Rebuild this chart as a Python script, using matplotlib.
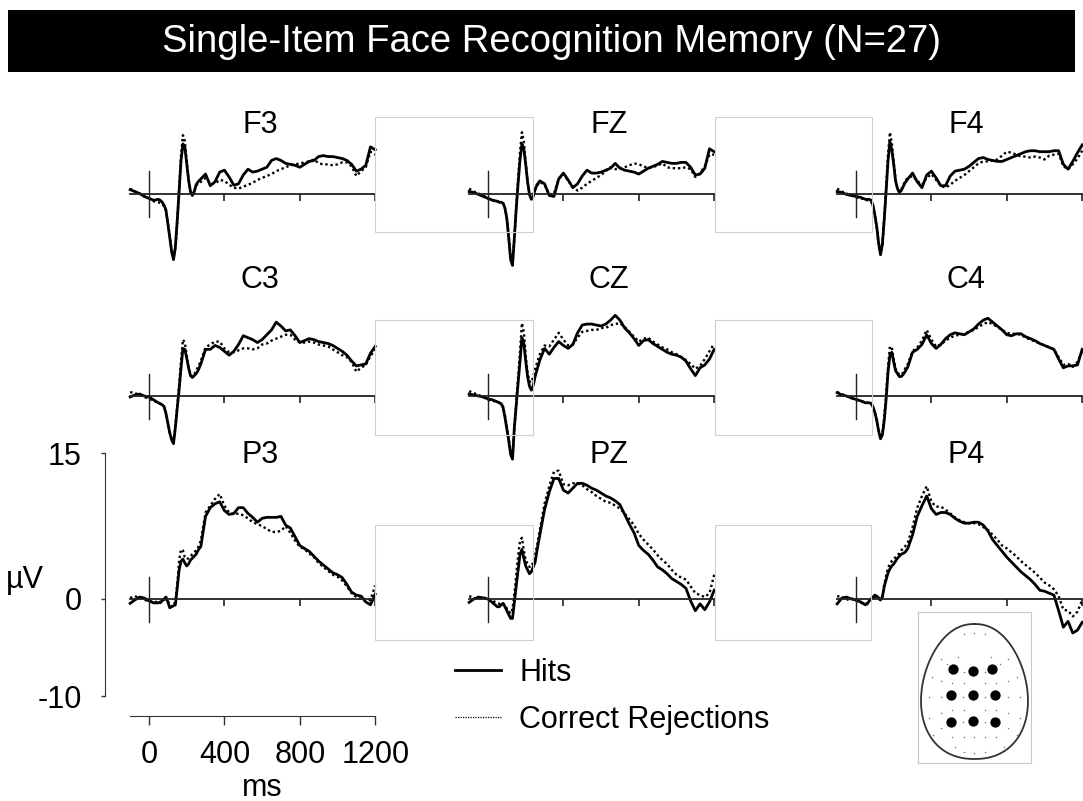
import numpy as np
import matplotlib
matplotlib.use("Agg")
import matplotlib.pyplot as plt
from matplotlib.lines import Line2D
from matplotlib.patches import Rectangle

plt.rcParams['font.family'] = ['Liberation Sans', 'DejaVu Sans']

W, H = 1083, 801

# ---------------- data ----------------
# sampling grid (ms): -100..50 step 25, 60..260 step 10, 275..1200 step 25
time_ms = np.concatenate([np.arange(-100, 51, 25), np.arange(60, 261, 10), np.arange(275, 1201, 25)])

electrodes = ["F3", "FZ", "F4", "C3", "CZ", "C4", "P3", "PZ", "P4"]

f3_hits = [0.4, 0.2, 0.0, -0.3, -0.5, -0.7, -0.6,
           -0.7, -0.9, -1.2, -1.7, -3.1, -4.5, -6.0, -6.8, -5.5, -2.7, 0.3, 3.4, 5.1, 4.8, 3.1, 1.4, 0.2, -0.2, 0.2, 0.9, 1.2,
           1.5, 2.0, 0.8, 1.2, 2.2, 2.4, 1.7, 0.85, 1.0, 1.9, 2.5, 2.2, 2.3, 2.5, 2.7, 3.4, 3.6, 3.4, 3.1, 3.0, 2.9, 2.7,
           3.0, 3.3, 3.4, 3.8, 3.9, 3.8, 3.8, 3.7, 3.6, 3.4, 3.0, 2.3, 2.5, 2.9, 4.8, 4.5]
f3_cr = [0.5, 0.2, 0.0, -0.3, -0.5, -0.8, -0.9,
         -1.0, -1.1, -1.3, -1.8, -3.0, -4.4, -5.8, -6.6, -5.6, -2.9, 0.6, 4.0, 6.0, 5.4, 3.3, 1.4, 0.2, -0.2, 0.2, 0.8, 1.0,
         1.2, 1.6, 1.1, 1.0, 1.4, 1.3, 0.9, 0.6, 0.5, 0.7, 0.9, 1.1, 1.4, 1.6, 1.8, 2.0, 2.3, 2.5, 2.7, 2.9, 3.0, 3.1,
         3.2, 3.3, 3.5, 3.1, 3.0, 3.0, 2.9, 3.0, 3.2, 3.2, 2.8, 1.8, 2.3, 2.7, 4.3, 4.0]

fz_hits = [0.2, 0.1, -0.1, -0.3, -0.5, -0.7, -0.8,
           -0.9, -0.9, -1.0, -1.5, -2.6, -4.6, -6.8, -7.4, -4.5, -1.5, 1.1, 3.5, 5.1, 4.6, 3.0, 1.2, -0.1, -0.6, -0.3, 0.4, 0.9,
           1.3, 1.0, -0.2, -0.3, 1.5, 2.1, 1.4, 0.6, 1.0, 1.8, 2.4, 2.1, 2.1, 2.2, 2.4, 2.6, 3.1, 2.6, 2.4, 2.3, 2.2, 2.0,
           2.3, 2.6, 2.8, 3.0, 3.3, 3.2, 3.1, 3.1, 3.2, 3.2, 2.7, 1.9, 2.0, 2.6, 4.6, 4.3]
fz_cr = [0.5, 0.2, 0.0, -0.2, -0.5, -0.7, -0.8,
         -0.9, -0.9, -1.0, -1.5, -2.5, -4.4, -6.5, -7.2, -4.6, -1.3, 1.6, 4.3, 6.3, 5.3, 3.2, 1.2, -0.1, -0.5, -0.2, 0.4, 0.8,
         1.2, 0.9, -0.1, 0.0, 1.5, 2.0, 1.3, 0.7, 0.3, 0.6, 1.0, 1.3, 1.6, 1.9, 2.3, 2.7, 2.5, 2.6, 2.7, 2.9, 3.1, 3.0,
         2.8, 2.6, 2.7, 2.9, 3.1, 2.7, 2.6, 2.6, 2.6, 2.7, 2.5, 1.7, 2.1, 2.8, 4.0, 4.0]

f4_hits = [0.2, 0.1, -0.1, -0.2, -0.3, -0.4, -0.6,
           -0.6, -0.6, -0.7, -1.2, -2.2, -3.4, -5.1, -6.3, -5.2, -2.6, 0.3, 3.4, 5.3, 4.5, 3.0, 1.3, 0.5, 0.1, 0.3, 0.7, 1.1,
           1.5, 2.1, 1.2, 0.6, 1.9, 2.3, 1.6, 0.8, 0.8, 1.8, 2.3, 2.4, 2.5, 2.8, 3.2, 3.6, 3.7, 3.5, 3.4, 3.3, 3.3, 3.5,
           3.7, 3.9, 4.1, 4.3, 4.4, 4.4, 4.3, 4.3, 4.3, 4.4, 4.4, 3.0, 2.5, 3.3, 4.2, 5.0]
f4_cr = [0.5, 0.2, 0.0, -0.2, -0.4, -0.5, -0.6,
         -0.7, -0.7, -0.8, -1.3, -2.3, -3.5, -5.2, -6.2, -5.3, -2.5, 0.7, 4.0, 6.3, 5.2, 3.2, 1.4, 0.5, 0.2, 0.4, 0.8, 1.3,
         1.6, 1.8, 1.3, 0.9, 1.6, 2.0, 1.4, 0.8, 0.6, 0.9, 1.3, 1.6, 1.9, 2.3, 2.7, 3.1, 3.3, 3.3, 3.4, 3.5, 3.9, 4.3,
         4.2, 4.0, 3.8, 3.8, 3.7, 3.8, 3.7, 3.5, 3.9, 4.0, 4.1, 2.8, 2.5, 3.0, 3.6, 4.4]

c3_hits = [-0.1, 0.1, 0.2, 0.0, -0.1, -0.4, -0.7,
           -0.8, -0.9, -1.1, -1.8, -2.8, -3.8, -4.5, -4.9, -3.2, -1.2, 0.7, 2.9, 4.9, 4.8, 3.9, 2.9, 2.1, 1.9, 2.1, 2.3, 2.6,
           3.3, 4.8, 4.8, 5.2, 5.0, 4.6, 4.2, 4.6, 5.3, 6.2, 6.0, 5.8, 5.5, 5.8, 6.3, 6.8, 7.6, 7.2, 6.7, 6.8, 6.2, 5.5,
           5.7, 5.9, 5.8, 5.6, 5.5, 5.4, 5.2, 4.9, 4.6, 4.2, 3.6, 3.1, 3.2, 3.3, 4.4, 5.1]
c3_cr = [0.4, 0.3, 0.1, -0.1, -0.3, -0.5, -0.7,
         -0.8, -0.9, -1.1, -1.7, -2.7, -3.7, -4.4, -4.7, -3.2, -1.0, 1.2, 3.6, 5.8, 5.5, 4.2, 3.0, 2.2, 2.0, 2.2, 2.6, 3.0,
         3.6, 5.0, 5.3, 5.6, 5.6, 4.9, 4.5, 4.5, 4.7, 4.9, 4.9, 4.8, 4.9, 5.3, 5.4, 5.7, 5.9, 6.1, 6.3, 6.3, 5.8, 5.5,
         5.5, 5.6, 5.5, 5.3, 5.2, 5.1, 4.8, 4.5, 4.2, 4.0, 3.5, 2.5, 2.9, 3.2, 4.1, 4.8]

cz_hits = [0.2, 0.1, 0.0, -0.1, -0.3, -0.4, -0.6,
           -0.7, -0.8, -1.2, -2.2, -3.4, -4.6, -6.0, -6.5, -3.2, -0.9, 1.4, 3.6, 6.0, 5.4, 3.6, 2.0, 1.0, 0.6, 1.1, 2.0, 2.7,
           3.7, 4.9, 4.3, 5.0, 5.6, 5.2, 4.9, 5.3, 6.5, 7.3, 7.4, 7.4, 7.3, 7.2, 7.4, 7.8, 8.3, 7.8, 7.0, 6.5, 5.9, 5.2,
           5.7, 5.8, 5.4, 5.1, 4.8, 4.5, 4.3, 4.2, 4.0, 3.6, 2.8, 2.1, 2.9, 3.2, 3.8, 4.8]
cz_cr = [0.5, 0.3, 0.1, -0.1, -0.4, -0.5, -0.6,
         -0.7, -0.8, -1.1, -2.0, -3.2, -4.4, -5.8, -6.2, -3.4, -0.6, 2.0, 4.6, 7.5, 6.6, 4.2, 2.4, 1.5, 1.4, 2.0, 2.8, 3.4,
         4.3, 5.2, 5.1, 5.8, 6.5, 5.8, 5.2, 5.3, 6.0, 6.6, 6.7, 6.8, 6.8, 7.0, 7.0, 7.3, 7.4, 7.5, 7.1, 6.6, 6.1, 5.6,
         5.9, 6.0, 5.6, 5.3, 5.0, 4.8, 4.5, 4.3, 4.0, 3.7, 3.3, 2.8, 3.1, 3.8, 4.6, 5.4]

c4_hits = [0.35, 0.1, 0.0, -0.2, -0.35, -0.5, -0.7,
           -0.7, -0.7, -0.75, -1.1, -1.7, -2.5, -3.6, -4.4, -4.0, -2.5, -0.3, 2.5, 4.2, 4.5, 3.5, 2.6, 2.3, 2.0, 2.0, 2.2, 2.5,
           3.0, 4.5, 4.8, 5.3, 6.3, 5.4, 4.9, 5.3, 5.9, 6.3, 6.5, 6.4, 6.3, 6.6, 6.9, 7.4, 7.8, 8.0, 7.6, 7.2, 6.8, 6.3,
           6.2, 6.4, 6.4, 6.1, 5.9, 5.7, 5.4, 5.2, 5.0, 4.8, 3.8, 2.9, 3.1, 3.1, 3.2, 4.8]
c4_cr = [0.4, 0.2, 0.0, -0.2, -0.4, -0.5, -0.7,
         -0.7, -0.7, -0.8, -1.1, -1.7, -2.5, -3.5, -4.3, -3.8, -2.1, 0.2, 3.0, 5.1, 5.0, 3.8, 2.8, 2.4, 2.2, 2.2, 2.4, 2.8,
         3.3, 4.6, 5.0, 5.7, 6.8, 5.8, 5.1, 5.3, 5.7, 6.0, 6.2, 6.3, 6.4, 6.6, 6.8, 7.1, 7.4, 7.6, 7.4, 7.1, 6.8, 6.5,
         6.4, 6.4, 6.3, 6.0, 5.8, 5.6, 5.4, 5.2, 5.0, 4.8, 4.0, 3.2, 3.3, 3.0, 3.5, 4.6]

p3_hits = [-0.45, -0.1, 0.2, 0.1, -0.2, -0.4, -0.4,
           -0.3, -0.2, 0.0, 0.2, -0.3, -0.9, -0.8, -0.7, -0.6, 1.2, 3.0, 3.9, 4.1, 3.7, 3.4, 3.6, 4.0, 4.2, 4.4, 4.6, 5.0,
           5.4, 8.5, 9.4, 9.8, 10.0, 9.1, 8.7, 8.8, 9.4, 9.4, 8.8, 8.4, 7.9, 8.3, 8.4, 8.4, 8.4, 8.5, 7.6, 7.3, 6.4, 5.5,
           5.2, 4.9, 4.4, 3.9, 3.5, 3.1, 2.7, 2.5, 2.2, 1.5, 0.7, 0.4, 0.3, -0.3, -0.6, 0.5]
p3_cr = [0.1, 0.3, 0.1, -0.1, -0.2, -0.3, -0.3,
         -0.4, -0.3, -0.1, 0.0, -0.2, -0.6, -0.8, -0.6, -0.3, 1.5, 4.0, 5.1, 5.0, 4.3, 4.1, 4.2, 4.4, 4.6, 4.8, 5.0, 5.3,
         6.0, 8.9, 9.6, 10.3, 10.8, 9.6, 8.9, 8.7, 8.8, 8.6, 8.3, 7.9, 7.7, 7.5, 7.2, 6.9, 6.9, 7.0, 7.5, 6.8, 6.0, 5.4,
         5.1, 4.7, 4.3, 3.7, 3.3, 2.9, 2.5, 2.3, 1.9, 1.3, 0.6, 0.2, 0.0, -0.2, -0.1, 1.4]

pz_hits = [-0.35, 0.0, 0.2, 0.1, 0.0, -0.4, -0.8,
           -0.8, -0.6, -0.45, -0.8, -1.2, -1.6, -2.0, -2.0, -0.3, 1.4, 3.0, 4.6, 5.1, 4.2, 3.4, 3.0, 2.6, 2.8, 3.3, 3.8, 5.0,
           6.6, 9.2, 11.0, 12.4, 12.4, 11.2, 10.9, 11.4, 11.9, 11.9, 11.7, 11.4, 11.2, 10.9, 10.6, 10.4, 10.1, 9.7, 8.7, 7.7, 6.8, 5.5,
           5.0, 4.6, 4.0, 3.3, 3.0, 2.6, 2.1, 1.8, 1.5, 1.1, -0.2, -1.2, -0.5, -1.1, -0.3, 0.9]
pz_cr = [0.3, 0.1, 0.0, 0.2, -0.1, -0.2, -0.4,
         -0.5, -0.6, -0.5, -0.6, -1.0, -1.3, -1.5, -1.0, 0.5, 2.5, 4.5, 6.0, 6.3, 5.0, 4.0, 3.6, 3.3, 3.3, 3.8, 4.5, 5.5,
         7.1, 9.8, 11.6, 13.1, 13.2, 11.8, 11.7, 11.9, 11.9, 11.7, 11.3, 11.0, 10.6, 10.3, 10.0, 9.9, 9.6, 9.3, 8.8, 8.2, 7.6, 6.7,
         6.1, 5.6, 5.1, 4.5, 4.0, 3.6, 3.0, 2.5, 2.2, 2.0, 1.3, 0.6, 0.4, 0.2, 0.6, 2.5]

p4_hits = [-0.5, 0.1, 0.2, 0.0, -0.1, -0.3, -0.6,
           -0.5, -0.2, 0.0, 0.2, 0.4, 0.3, 0.1, -0.1, 0.2, 1.3, 2.0, 2.7, 3.1, 3.4, 3.6, 3.9, 4.2, 4.4, 4.6, 4.7, 4.8,
           5.2, 6.6, 8.5, 9.6, 10.6, 9.3, 8.7, 8.9, 8.9, 8.7, 8.3, 8.0, 7.8, 7.8, 7.9, 7.9, 7.6, 7.0, 6.1, 5.5, 4.9, 4.3,
           3.8, 3.3, 2.8, 2.4, 2.0, 1.5, 0.9, 0.8, 0.6, 0.4, -1.2, -2.9, -2.3, -3.5, -3.2, -2.4]
p4_cr = [0.3, 0.2, -0.1, 0.1, -0.2, -0.4, -0.5,
         -0.4, -0.2, 0.0, 0.1, 0.2, 0.1, 0.0, -0.1, 0.3, 1.5, 2.4, 3.2, 3.6, 3.9, 4.1, 4.3, 4.5, 4.7, 5.0, 5.2, 5.4,
         5.8, 7.4, 9.4, 10.6, 11.6, 10.0, 9.5, 9.5, 9.2, 8.8, 8.4, 8.1, 7.9, 7.8, 7.8, 7.7, 7.4, 7.1, 6.6, 6.1, 5.5, 5.2,
         4.8, 4.4, 3.9, 3.5, 3.1, 2.7, 2.2, 1.7, 1.4, 1.0, 0.3, -1.1, -1.2, -1.8, -1.3, -0.1]

hits = [f3_hits, fz_hits, f4_hits, c3_hits, cz_hits, c4_hits, p3_hits, pz_hits, p4_hits]
crs = [f3_cr, fz_cr, f4_cr, c3_cr, cz_cr, c4_cr, p3_cr, pz_cr, p4_cr]

y_scale_ticks = [-10, 0, 15]
x_scale_ticks = [0, 400, 800, 1200]
legend_labels = ["Hits", "Correct Rejections"]
title_text = "Single-Item Face Recognition Memory (N=27)"

# ---------------- layout ----------------
SX = 0.1885   # px per ms
SY = 9.72     # px per µV
col_x0 = [149, 488, 856]
row_y0 = [193.5, 396, 599]
title_x = [589, 642, 584]
title_base = [6.2, 11.15, 14.0]
YMIN, YMAX = -13, 16
FS = 22


def px_rect(left, top, width, height):
    return [left / W, 1 - (top + height) / H, width / W, height / H]


fig = plt.figure(figsize=(W / 100, H / 100), dpi=100)

# title bar
fig.add_artist(Rectangle((8 / W, 1 - 72 / H), (1075 - 8) / W, 62 / H,
                         transform=fig.transFigure, facecolor='black', edgecolor='none'))
fig.text(551 / W, 1 - 42 / H, title_text, color='white', fontsize=27.5,
         ha='center', va='center')

# faint frames left over from pasted panels
for (l, t, r, b) in [(375, 117, 533, 232), (375, 320, 533, 435), (375, 525, 533, 640),
                     (715, 117, 872, 232), (715, 320, 872, 435), (715, 525, 871, 640)]:
    fig.add_artist(Rectangle((l / W, 1 - b / H), (r - l) / W, (b - t) / H,
                             transform=fig.transFigure, fill=False,
                             edgecolor='#cfcfcf', lw=0.8))

axes = []
for i, name in enumerate(electrodes):
    r, c = divmod(i, 3)
    left = col_x0[c] - 100 * SX
    top = row_y0[r] - YMAX * SY
    rect = px_rect(left, top, 1300 * SX, (YMAX - YMIN) * SY)
    ax = fig.add_axes(rect)
    ax.set_xlim(-100, 1200)
    ax.set_ylim(YMIN, YMAX)
    ax.patch.set_visible(False)
    for s in ('top', 'right'):
        ax.spines[s].set_visible(False)
    ax.spines['bottom'].set_position(('data', 0))
    ax.spines['bottom'].set_bounds(-100, 1200)
    ax.spines['bottom'].set_linewidth(1.3)
    ax.spines['bottom'].set_color('#222222')
    ax.spines['left'].set_position(('data', 0))
    ax.spines['left'].set_bounds(-2.4, 2.3)
    ax.spines['left'].set_linewidth(1.0)
    ax.spines['left'].set_color('#222222')
    ax.set_xticks([400, 800, 1200])
    ax.tick_params(axis='x', direction='out', length=5, width=1.2, color='#222222',
                   labelbottom=False)
    ax.set_yticks([])
    ax.plot(time_ms, crs[i], color='black', lw=1.7, linestyle=(0, (1, 1.2)), clip_on=False)
    ax.plot(time_ms, hits[i], color='black', lw=2.0, clip_on=False)
    ax.text(title_x[c], title_base[r], name, fontsize=FS, ha='center', va='baseline')
    axes.append((ax, rect))

# scale axes attached to P3
p3_rect = axes[6][1]
sc = fig.add_axes(p3_rect)
sc.set_xlim(-100, 1200)
sc.set_ylim(YMIN, YMAX)
sc.patch.set_visible(False)
for s in ('top', 'right'):
    sc.spines[s].set_visible(False)
sc.spines['left'].set_position(('outward', 18))
sc.spines['left'].set_bounds(-10, 15)
sc.spines['left'].set_color('#333333')
sc.spines['bottom'].set_position(('data', -12))
sc.spines['bottom'].set_bounds(-100, 1200)
sc.spines['bottom'].set_color('#333333')
sc.set_yticks(y_scale_ticks)
sc.set_yticklabels([str(v) for v in y_scale_ticks])
sc.set_xticks(x_scale_ticks)
sc.set_xticklabels([str(v) for v in x_scale_ticks])
sc.tick_params(axis='y', direction='out', length=3, width=1.0, pad=14, labelsize=FS, color='#333333')
sc.tick_params(axis='x', direction='out', length=6.5, width=1.0, pad=11, labelsize=FS, color='#333333')

fig.text(25 / W, 1 - 588 / H, 'µV', fontsize=FS, ha='center', va='baseline')
fig.text(262 / W, 1 - 796 / H, 'ms', fontsize=FS, ha='center', va='baseline')

# legend
handles = [Line2D([], [], color='black', lw=2.0),
           Line2D([], [], color='black', lw=0.9, linestyle=(0, (1, 1)))]
fig.legend(handles, legend_labels, loc='upper left', bbox_to_anchor=(455 / W, 1 - 658 / H),
           frameon=False, fontsize=FS, handlelength=1.5, handletextpad=0.6,
           labelspacing=0.56, borderpad=0, borderaxespad=0)

# scalp montage inset
sa = fig.add_axes(px_rect(918, 612, 113, 151))
sa.set_xlim(0, 113)
sa.set_ylim(151, 0)
sa.set_xticks([])
sa.set_yticks([])
for s in sa.spines.values():
    s.set_color('#c8c8c8')
    s.set_linewidth(0.8)
t = np.linspace(0, 2 * np.pi, 300)
s_t = np.sin(t)
head_x = 56.5 + 53 * np.sign(s_t) * np.abs(s_t) ** 0.9 * (1 - 0.13 * np.cos(t))
head_y = 79.5 - 67.5 * np.cos(t)
sa.plot(head_x, head_y, color='#333333', lw=1.3)

small_x = [46, 56.3, 67, 40, 73, 22.7, 90.3, 28.7, 82, 46, 67, 14, 98.7, 22.7, 90.3,
           34.3, 46, 67, 78, 11, 22.7, 44.7, 67, 90.3, 102, 34.3, 46, 67, 78, 22.7, 90.3,
           11, 102, 44.7, 67, 22.7, 90.3, 15, 98.7, 34.3, 46, 56.3, 67, 78, 37, 86, 46, 56.3, 67]
small_y = [22, 21.3, 22, 44.7, 44.7, 47.3, 47.3, 52.3, 52.3, 59.7, 59.7, 65.3, 65.3, 68.7, 68.7,
           71.3, 71.3, 71.3, 71.3, 84.7, 84.7, 84.7, 84.7, 84.7, 84.7, 98, 98, 98, 98, 101.3, 101.3,
           106.3, 106.3, 109.7, 109.7, 116.3, 116.3, 123, 123, 124.7, 124.7, 124.7, 124.7, 124.7, 134.7, 134.7,
           139.7, 140.7, 139.7]
sa.scatter(small_x, small_y, s=1.2, color='#777777', linewidths=0)
big_x = [35.3, 55.3, 73.7, 32.7, 55.3, 77, 32.7, 55.3, 77]
big_y = [57, 59, 57, 83, 83, 83, 110.3, 108.7, 110.3]
sa.scatter(big_x, big_y, s=55, color='black', linewidths=0)

fig.savefig('out.png', dpi=100)
